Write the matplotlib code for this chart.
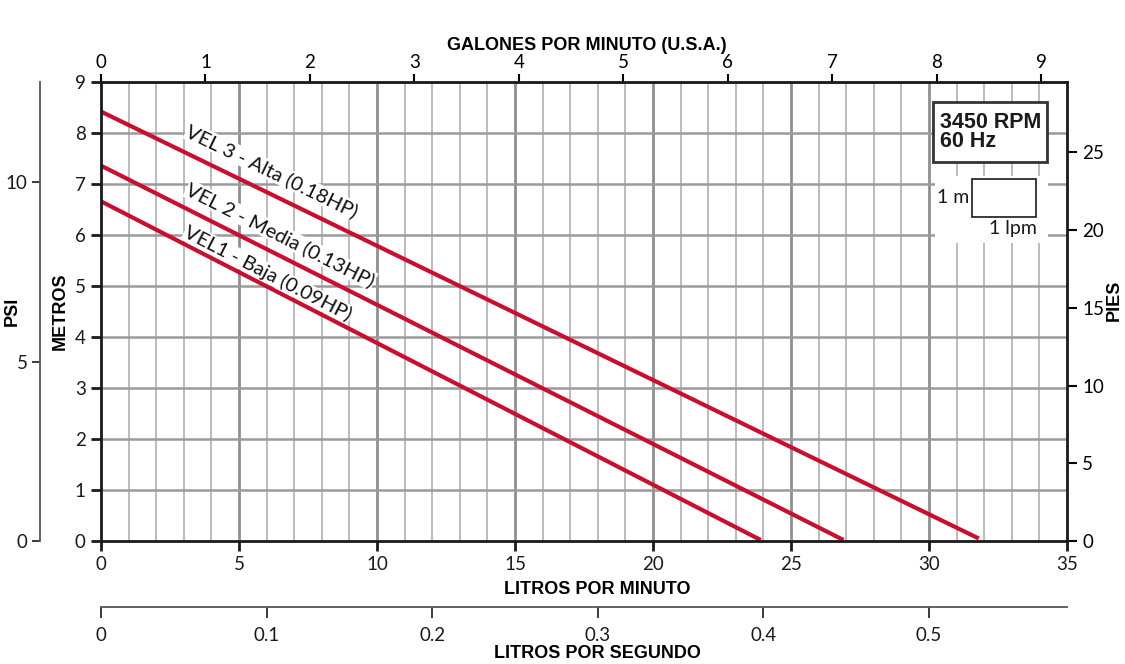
import numpy as np
import matplotlib
matplotlib.use("Agg")
import matplotlib.pyplot as plt
from matplotlib.patches import Rectangle

plt.rcParams['font.family'] = ['Lato', 'DejaVu Sans']

# curve data: flow (lpm) vs head (m)
vel3_lpm = [0, 31.8]
vel3_m = [8.42, 0.05]
vel2_lpm = [0, 26.9]
vel2_m = [7.36, 0.02]
vel1_lpm = [0, 23.9]
vel1_m = [6.66, 0.02]
curve_names = ["VEL 3 - Alta (0.18HP)", "VEL 2 - Media (0.13HP)", "VEL1 - Baja (0.09HP)"]
label_pos = [(6.2, 7.25), (6.5, 6.0), (6.05, 5.25)]

lpm_ticks = [0, 5, 10, 15, 20, 25, 30, 35]
m_ticks = [0, 1, 2, 3, 4, 5, 6, 7, 8, 9]
gpm_ticks = [0, 1, 2, 3, 4, 5, 6, 7, 8, 9]
ft_ticks = [0, 5, 10, 15, 20, 25]
psi_ticks = [0, 5, 10]
lps_ticks = [0, 0.1, 0.2, 0.3, 0.4, 0.5]

L_PER_GAL = 3.785
FT_PER_M = 3.281
PSI_PER_M = 1.422

red = '#C8102E'
bold = ['Liberation Sans Narrow', 'Liberation Sans', 'DejaVu Sans']
TS = 13.5

fig = plt.figure(figsize=(11.25, 6.64), dpi=100)
ax = fig.add_axes([0.0898, 0.1852, 0.8587, 0.6913])
ax.set_xlim(0, 35)
ax.set_ylim(0, 9)

# grid
for x in range(1, 35):
    if x % 5 == 0:
        ax.axvline(x, color='#8f8f8f', lw=2.0, zorder=1)
    else:
        ax.axvline(x, color='#b5b5b5', lw=1.3, zorder=1)
for y in m_ticks[1:]:
    ax.axhline(y, color='#9a9a9a', lw=1.8, zorder=1)

# white patch behind scale box
ax.add_patch(Rectangle((30.2, 5.85), 4.1, 1.3, fc='white', ec='none', zorder=2))

# curves
curves = [(vel3_lpm, vel3_m), (vel2_lpm, vel2_m), (vel1_lpm, vel1_m)]
for (xs, ys) in curves:
    ax.plot(xs, ys, color=red, lw=3.0, solid_capstyle='butt', zorder=4)

fig.canvas.draw()
for (xs, ys), name, (lx, ly) in zip(curves, curve_names, label_pos):
    p0 = ax.transData.transform((xs[0], ys[0]))
    p1 = ax.transData.transform((xs[1], ys[1]))
    ang = np.degrees(np.arctan2(p1[1] - p0[1], p1[0] - p0[0]))
    ax.text(lx, ly, name, rotation=ang, rotation_mode='anchor', ha='center', va='center',
            fontsize=14.5, color='#111111', zorder=5,
            bbox=dict(fc='white', ec='none', pad=0.5))

# main axes styling
for s in ax.spines.values():
    s.set_color('#1a1a1a')
    s.set_linewidth(2.0)
    s.set_zorder(6)
ax.set_xticks(lpm_ticks)
ax.set_yticks(m_ticks)
ax.tick_params(direction='out', length=7, width=2, labelsize=TS, colors='#1a1a1a', pad=4)

# top: gallons per minute
top = ax.secondary_xaxis('top', functions=(lambda l: l / L_PER_GAL, lambda g: g * L_PER_GAL))
top.set_xticks(gpm_ticks)
top.tick_params(direction='out', length=6, width=1.5, labelsize=TS, pad=2)
top.spines['top'].set_visible(False)

# right: feet
right = ax.secondary_yaxis('right', functions=(lambda m: m * FT_PER_M, lambda f: f / FT_PER_M))
right.set_yticks(ft_ticks)
right.tick_params(direction='out', length=7, width=1.5, labelsize=TS, pad=4)
right.spines['right'].set_visible(False)

# left outer: psi
psi = ax.secondary_yaxis(-0.063, functions=(lambda m: m * PSI_PER_M, lambda p: p / PSI_PER_M))
psi.set_yticks(psi_ticks)
psi.tick_params(direction='out', length=6, width=1.2, labelsize=TS, pad=3, colors='#1a1a1a')
psi.spines['left'].set_color('#555555')
psi.spines['left'].set_linewidth(1.3)

# bottom outer: liters per second
lps = ax.secondary_xaxis(-0.144, functions=(lambda l: l / 60.0, lambda s: s * 60.0))
lps.set_xticks(lps_ticks)
lps.set_xticklabels(['0', '0.1', '0.2', '0.3', '0.4', '0.5'])
lps.tick_params(direction='out', length=8, width=1.2, labelsize=TS, pad=6, colors='#1a1a1a')
lps.spines['bottom'].set_color('#555555')
lps.spines['bottom'].set_linewidth(1.3)

# axis titles
fs_t = 13
fig.text(587 / 1125, 1 - 45 / 664, "GALONES POR MINUTO (U.S.A.)", ha='center', va='center',
         fontsize=fs_t, fontweight='bold', family=bold)
fig.text(597 / 1125, 1 - 590 / 664, "LITROS POR MINUTO", ha='center', va='center',
         fontsize=fs_t, fontweight='bold', family=bold)
fig.text(597 / 1125, 1 - 653 / 664, "LITROS POR SEGUNDO", ha='center', va='center',
         fontsize=fs_t, fontweight='bold', family=bold)
fig.text(60 / 1125, 1 - 311 / 664, "METROS", ha='center', va='center', rotation=90,
         fontsize=fs_t, fontweight='bold', family=bold)
fig.text(12 / 1125, 1 - 311 / 664, "PSI", ha='center', va='center', rotation=90,
         fontsize=fs_t, fontweight='bold', family=bold)
fig.text(1114 / 1125, 1 - 300 / 664, "PIES", ha='center', va='center', rotation=90,
         fontsize=fs_t, fontweight='bold', family=bold)

# RPM box
ax.add_patch(Rectangle((30.14, 7.43), 4.13, 1.18, fc='white', ec='#333333', lw=2.0, zorder=5))
ax.text(30.38, 8.02, "3450 RPM\n60 Hz", ha='left', va='center', fontsize=15.5, fontweight='bold',
        family=['Liberation Sans', 'DejaVu Sans'], color='#1a1a1a', linespacing=0.9, zorder=6)

# scale box
ax.add_patch(Rectangle((31.56, 6.35), 2.32, 0.75, fc='white', ec='#1a1a1a', lw=1.2, zorder=5))
ax.text(31.45, 6.73, "1 m", ha='right', va='center', fontsize=14, color='#1a1a1a', zorder=6)
ax.text(33.9, 6.12, "1 lpm", ha='right', va='center', fontsize=14, color='#1a1a1a', zorder=6)

fig.savefig('out.png', dpi=100)
